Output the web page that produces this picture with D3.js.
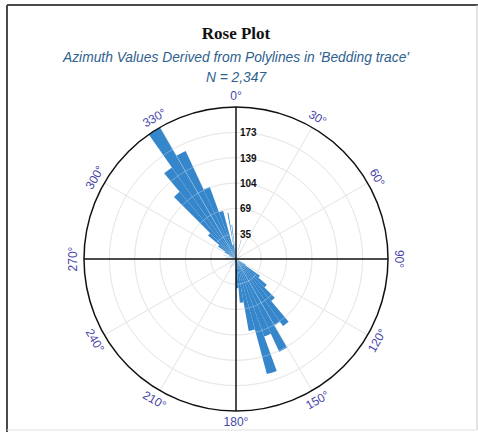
<!DOCTYPE html>
<html>
<head>
<meta charset="utf-8">
<script src="https://cdn.jsdelivr.net/npm/d3@7"></script>
<style>
  body { margin: 0; background: #fff; }
  svg { display: block; }
</style>
</head>
<body>
<svg id="chart" width="478" height="432"></svg>
<script>
// ---- data ----
const titleText = "Rose Plot";
const subtitleText = "Azimuth Values Derived from Polylines in 'Bedding trace'";
const countText = "N = 2,347";

// outer ring value and number of rings
const maxCount = 208;
const ringCount = 6;

// 5-degree petals: start azimuth and count
const petalStart = [120, 125, 130, 135, 140, 145, 150, 155, 160, 165, 170, 175,
                    295, 300, 305, 310, 315, 320, 325, 330, 335, 340, 345];
const petalCount = [15, 40, 55, 75, 112, 105, 140, 113, 163, 100, 60, 40,
                    10, 18, 30, 50, 120, 153, 208, 163, 105, 68, 20];

// narrow spikes: azimuth and count
const spikeAngle = [350, 353, 15, 30, 60, 92, 100, 200, 215, 225, 240, 250, 262, 268, 272, 280, 288];
const spikeCount = [64, 47, 27, 10, 8, 26, 10, 10, 14, 12, 10, 15, 12, 15, 15, 14, 18];

// compass labels every 30 degrees
const compassAngles = d3.range(0, 360, 30);

// ---- layout ----
const svg = d3.select("#chart");
const cx = 236, cy = 259, R = 152;
const petalWidth = 5, spikeWidth = 1.2;
const petalColor = "#3586cb";
const gridColor = "#dcdcdc";

// frame
svg.append("line").attr("x1", 7).attr("y1", 5).attr("x2", 478).attr("y2", 5)
  .attr("stroke", "#4a4a4a").attr("stroke-width", 2);
svg.append("line").attr("x1", 7).attr("y1", 5).attr("x2", 7).attr("y2", 432)
  .attr("stroke", "#4a4a4a").attr("stroke-width", 2);
svg.append("line").attr("x1", 477).attr("y1", 5).attr("x2", 477).attr("y2", 430)
  .attr("stroke", "#c8c8c8").attr("stroke-width", 1);
svg.append("line").attr("x1", 7).attr("y1", 430).attr("x2", 477).attr("y2", 430)
  .attr("stroke", "#e0e0e0").attr("stroke-width", 1);

// titles
svg.append("text").attr("x", cx).attr("y", 39).attr("text-anchor", "middle")
  .attr("font-family", "'Liberation Serif', 'Times New Roman', serif")
  .attr("font-weight", "bold").attr("font-size", 17).attr("fill", "#111")
  .text(titleText);
svg.append("text").attr("x", cx).attr("y", 62).attr("text-anchor", "middle")
  .attr("font-family", "'Liberation Sans', Arial, sans-serif")
  .attr("font-style", "italic").attr("font-size", 13.8).attr("fill", "#2e5f8e")
  .text(subtitleText);
svg.append("text").attr("x", cx).attr("y", 82).attr("text-anchor", "middle")
  .attr("font-family", "'Liberation Sans', Arial, sans-serif")
  .attr("font-style", "italic").attr("font-size", 13.8).attr("fill", "#2e5f8e")
  .text(countText);

const g = svg.append("g").attr("transform", `translate(${cx},${cy})`);
const r = d3.scaleLinear().domain([0, maxCount]).range([0, R]);
const rad = d => d * Math.PI / 180;
const ringValues = d3.range(1, ringCount).map(k => maxCount * k / ringCount);
const spokeAngles = compassAngles.filter(a => a % 90 !== 0);

function drawGrid(layer, color, opacity) {
  layer.selectAll(null).data(ringValues).join("circle")
    .attr("r", d => r(d))
    .attr("fill", "none").attr("stroke", color).attr("stroke-opacity", opacity).attr("stroke-width", 1);
  layer.selectAll(null).data(spokeAngles).join("line")
    .attr("x1", 0).attr("y1", 0)
    .attr("x2", a => R * Math.sin(rad(a))).attr("y2", a => -R * Math.cos(rad(a)))
    .attr("stroke", color).attr("stroke-opacity", opacity).attr("stroke-width", 1);
}

// grid rings and spokes
drawGrid(g.append("g"), gridColor, 1);

// petals
const arc = d3.arc().innerRadius(0);
const petals = petalStart.map((s, i) => ({start: s, end: s + petalWidth, value: petalCount[i]}));
const spikes = spikeAngle.map((a, i) => ({start: a - spikeWidth / 2, end: a + spikeWidth / 2, value: spikeCount[i]}));
g.append("g").selectAll("path").data(petals.concat(spikes)).join("path")
  .attr("d", d => arc({startAngle: rad(d.start), endAngle: rad(d.end), outerRadius: r(d.value)}))
  .attr("fill", petalColor);

// grid showing faintly through the petals
drawGrid(g.append("g"), "#ffffff", 0.3);

// main axes and outer ring
g.append("line").attr("x1", 0).attr("y1", -R).attr("x2", 0).attr("y2", R)
  .attr("stroke", "#111").attr("stroke-width", 1.5);
g.append("line").attr("x1", -R).attr("y1", 0).attr("x2", R).attr("y2", 0)
  .attr("stroke", "#111").attr("stroke-width", 1.5);
g.append("circle").attr("r", R).attr("fill", "none")
  .attr("stroke", "#111").attr("stroke-width", 1.5);

// ring value labels
g.selectAll("text.tick").data(ringValues).join("text")
  .attr("class", "tick")
  .attr("x", 4).attr("y", d => -r(d) + 4)
  .attr("font-family", "'Liberation Sans', Arial, sans-serif")
  .attr("font-weight", "bold").attr("font-size", 10).attr("fill", "#111")
  .text(d => d3.format(".0f")(d));

// compass labels
const labelR = R + 11;
g.selectAll("text.compass").data(compassAngles).join("text")
  .attr("class", "compass")
  .attr("transform", a => {
    const x = labelR * Math.sin(rad(a)), y = -labelR * Math.cos(rad(a));
    const rot = a <= 90 ? a : (a < 270 ? a - 180 : a - 360);
    return `translate(${x},${y}) rotate(${rot})`;
  })
  .attr("text-anchor", "middle").attr("dominant-baseline", "central")
  .attr("font-family", "'Liberation Sans', Arial, sans-serif")
  .attr("font-size", 12).attr("fill", "#4646a8")
  .text(a => a + "\u00b0");
</script>
</body>
</html>
